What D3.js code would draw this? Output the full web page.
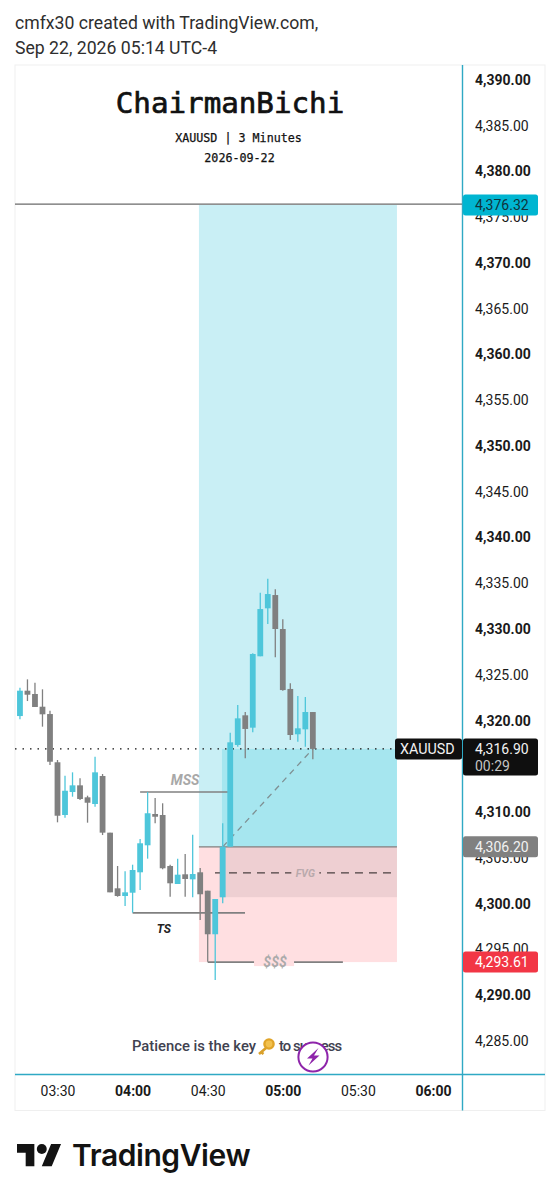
<!DOCTYPE html>
<html><head><meta charset="utf-8">
<script src="https://cdn.jsdelivr.net/npm/d3@7/dist/d3.min.js"></script>
<style>html,body{margin:0;padding:0;background:#fff}svg{display:block}text{font-family:Roboto,sans-serif}</style>
</head><body><div id="c"></div>
<script>
const opens=[4320.49,4323.26,4322.90,4321.51,4320.71,4315.44,4309.68,4312.19,4312.92,4311.61,4310.88,4313.94,4307.75,4301.67,4300.83,4301.19,4303.42,4306.37,4309.79,4309.68,4304.11,4302.14,4303.20,4302.65,4303.42,4301.41,4296.65,4300.69,4306.22,4317.33,4320.57,4319.22,4327.02,4332.26,4333.71,4330.00,4323.45,4318.50,4319.04,4320.93];
const highs=[4323.59,4324.50,4324.13,4323.41,4321.07,4315.69,4313.97,4314.34,4313.69,4311.79,4316.05,4314.16,4307.75,4304.11,4303.53,4304.25,4307.06,4312.19,4311.54,4310.96,4304.25,4304.91,4305.42,4307.53,4303.89,4301.41,4300.50,4308.77,4318.67,4321.70,4320.93,4327.34,4333.97,4335.50,4334.34,4331.06,4324.07,4322.68,4322.57,4320.93];
const lows=[4320.13,4322.13,4321.48,4319.33,4315.14,4308.88,4309.38,4311.68,4311.32,4308.84,4310.59,4307.49,4301.23,4300.75,4299.74,4299.01,4301.49,4304.91,4308.77,4303.75,4300.75,4302.14,4300.75,4300.69,4298.21,4293.65,4291.65,4300.03,4306.22,4317.14,4315.87,4318.71,4327.02,4330.55,4326.91,4323.26,4317.87,4317.69,4317.14,4315.76];
const closes=[4323.26,4322.82,4321.48,4320.68,4315.50,4309.60,4312.33,4312.92,4311.43,4311.02,4314.34,4307.75,4301.23,4300.83,4301.23,4303.67,4306.59,4309.87,4309.49,4303.86,4302.22,4303.16,4302.69,4303.23,4301.02,4296.65,4300.50,4306.22,4317.62,4320.24,4319.08,4327.27,4332.18,4333.82,4330.00,4323.33,4318.42,4319.15,4320.93,4316.90];
const firstMinute=195, barMinutes=3;
const priceTicks=[4285,4290,4295,4300,4305,4310,4315,4320,4325,4330,4335,4340,4345,4350,4355,4360,4365,4370,4375,4380,4385,4390];
const timeTicks=[210,240,270,300,330,360];
const tp=4376.32, entry=4306.20, stop=4293.61, last=4316.90;
const fvgTop=4306.20, fvgBottom=4300.70, fvgMid=4303.35;
const boxStart=266.5, boxEnd=345.6, posStart=275.7, fvgStart=274.5, fvgDashStart=272.9;
const mss=[243,278.1,4312.19], ts=[240,284.9,4298.99], liq=[270,324,4293.61];
const diagonal=[[276,4306.2],[312,4316.9]];

const W=559,H=1200;
const plotLeft=15,axisX=462.5,plotRight=545,plotTop=65,axisY=1074.5,plotBottom=1110.5;
const svg=d3.select('#c').append('svg').attr('width',W).attr('height',H);
const x=d3.scaleLinear().domain([210,360]).range([57.5,433]);
const y=d3.scaleLinear().domain([4390,4285]).range([79.8,1040.9]);
const fmtTime=m=>d3.format('02d')(Math.floor(m/60))+':'+d3.format('02d')(m%60);
const UP='#4ec6da',DOWN='#808080',AXIS='#2fa9c4';

// header
const head=svg.append('g').attr('fill','#2e2e2e').style('font-size','17.65px');
head.append('text').attr('x',15).attr('y',29).text('cmfx30 created with TradingView.com,');
head.append('text').attr('x',15).attr('y',54).text('Sep 22, 2026 05:14 UTC-4');

// frame
svg.append('rect').attr('x',plotLeft).attr('y',plotTop).attr('width',plotRight-plotLeft).attr('height',plotBottom-plotTop).attr('fill','#fff').attr('stroke','#efefef');

// boxes
const rect=(x0,x1,p0,p1,fill)=>svg.append('rect').attr('x',x(x0)).attr('width',x(x1)-x(x0)).attr('y',y(p0)).attr('height',y(p1)-y(p0)).attr('fill',fill);
rect(boxStart,boxEnd,tp,entry,'#c9eff5');
rect(posStart,boxEnd,last,entry,'#a6e6ef');
rect(boxStart,boxEnd,entry,stop,'#ffdfe1');
rect(fvgStart,boxEnd,fvgTop,fvgBottom,'#eecfd2');

const hl=(x0,x1,p,col,w,dash)=>svg.append('line').attr('x1',x0).attr('x2',x1).attr('y1',y(p)).attr('y2',y(p)).attr('stroke',col).attr('stroke-width',w).attr('stroke-dasharray',dash||null);
hl(plotLeft,axisX,tp+0.1,'#6a6a6a',1.3);
hl(x(boxStart),x(boxEnd),entry,'#7f7f7f',1.3);
hl(x(fvgDashStart),x(boxEnd),fvgMid,'#4a4040',1.3,'8 6');
hl(x(mss[0]),x(mss[1]),mss[2],'#808080',1.6);
hl(x(ts[0]),x(ts[1]),ts[2],'#808080',1.6);
hl(x(liq[0]),x(liq[1]),liq[2],'#808080',1.6);
svg.append('line').attr('x1',x(diagonal[0][0])).attr('y1',y(diagonal[0][1])).attr('x2',x(diagonal[1][0])).attr('y2',y(diagonal[1][1])).attr('stroke','#7f8f92').attr('stroke-width',1.3).attr('stroke-dasharray','6 5');
// last price dotted
hl(plotLeft,395,last,'#111',1.4,'1.5 6');

// candles
const candles=d3.range(opens.length).map(i=>({t:firstMinute+i*barMinutes,o:opens[i],h:highs[i],l:lows[i],c:closes[i]}));
const g=svg.append('g').selectAll('g').data(candles).join('g');
g.append('line').attr('x1',d=>x(d.t)).attr('x2',d=>x(d.t)).attr('y1',d=>y(d.h)).attr('y2',d=>y(d.l)).attr('stroke-width',1.3).attr('stroke',d=>d.c>=d.o?UP:DOWN);
g.append('rect').attr('x',d=>x(d.t)-2.9).attr('width',5.8).attr('y',d=>y(Math.max(d.o,d.c))).attr('height',d=>Math.max(1.5,Math.abs(y(d.o)-y(d.c)))).attr('fill',d=>d.c>=d.o?UP:DOWN);

// labels on drawings
const lbl=(t,m,p,col,size,weight)=>svg.append('text').attr('x',x(m)).attr('y',y(p)).attr('dy','0.35em').attr('text-anchor','middle').attr('fill',col).style('font-size',size+'px').style('font-weight',weight).style('font-style','italic').text(t);
svg.append('rect').attr('x',x(296.5)-20).attr('y',y(stop)-4).attr('width',40).attr('height',8).attr('fill','#ffdfe1');
lbl('MSS',261,4313.5,'#a8a8a8',14,700);
lbl('TS',252.5,4297.3,'#222',12,700);
svg.append('rect').attr('x',x(309)-14).attr('y',y(fvgMid)-7).attr('width',28).attr('height',14).attr('fill','#eecfd2');
lbl('FVG',309,fvgMid,'#b9a9ac',10.5,700);
lbl('$$$',296.9,stop,'#aaa',14,700);

// bottom note
const note=svg.append('g').attr('fill','#3f4250').style('font-size','14.8px').style('font-weight','500');
note.append('text').attr('x',256).attr('y',1051).attr('text-anchor','end').text('Patience is the key');
note.append('text').attr('x',279).attr('y',1051).attr('textLength',63).attr('lengthAdjust','spacing').text('to success');
const key=svg.append('g').attr('transform','translate(258,1039)');
key.append('circle').attr('cx',11).attr('cy',5).attr('r',4.6).attr('fill','#f2c14e').attr('stroke','#e0a428').attr('stroke-width',2.4);
key.append('path').attr('d','M8 9 L1 15 M3 13 L5.5 15').attr('stroke','#d9a02a').attr('stroke-width',2.6).attr('fill','none');
// bolt badge
const bolt=svg.append('g').attr('transform','translate(313,1057)');
bolt.append('circle').attr('r',14.6).attr('fill','#fff').attr('stroke','#8e24aa').attr('stroke-width',2);
bolt.append('path').attr('d','M5.5 -9 L-6 1.5 L-0.5 1.5 L-4.5 8.5 L6.5 -1.5 L1 -1.5 Z').attr('fill','#8e24aa');

// axes
const yAxis=svg.append('g').attr('transform',`translate(${axisX},0)`).call(d3.axisRight(y).tickValues(priceTicks).tickSize(0).tickPadding(12.5).tickFormat(d3.format(',.2f')));
yAxis.select('.domain').remove();
yAxis.selectAll('text').attr('fill','#1a1a1a').style('font-family','Roboto,sans-serif').style('font-size','14px').style('font-weight',d=>d%10===0?700:400);
const xAxis=svg.append('g').attr('transform',`translate(0,${axisY})`).call(d3.axisBottom(x).tickValues(timeTicks).tickSize(0).tickPadding(12).tickFormat(fmtTime));
xAxis.select('.domain').remove();
xAxis.selectAll('text').attr('fill','#1a1a1a').style('font-family','Roboto,sans-serif').style('font-size','14px').style('font-weight',d=>d%60===0?700:400);
svg.append('line').attr('x1',axisX).attr('x2',axisX).attr('y1',plotTop).attr('y2',plotBottom).attr('stroke',AXIS).attr('stroke-width',1.4);
svg.append('line').attr('x1',plotLeft).attr('x2',plotRight).attr('y1',axisY).attr('y2',axisY).attr('stroke',AXIS).attr('stroke-width',1.4);

// price tags
const tag=(p,fill,col,h)=>{svg.append('rect').attr('x',axisX+0.5).attr('y',y(p)-10.5).attr('width',75).attr('height',h||21).attr('rx',2.5).attr('fill',fill);
 svg.append('text').attr('x',axisX+12.5).attr('y',y(p)).attr('dy','0.36em').attr('fill',col).style('font-size','14px').text(d3.format(',.2f')(p));};
tag(tp,'#00b5d1','#10333b');
tag(entry,'#808080','#f2f2f2');
tag(stop,'#f23645','#fff');
tag(last,'#0f0f0f','#f2f2f2',37);
svg.append('text').attr('x',axisX+12.5).attr('y',y(last)+17).attr('dy','0.36em').attr('fill','#c4c4c4').style('font-size','14px').text('00:29');
svg.append('rect').attr('x',395).attr('y',y(last)-10.5).attr('width',67).attr('height',21).attr('rx',2.5).attr('fill','#0f0f0f');
svg.append('text').attr('x',400).attr('y',y(last)).attr('dy','0.36em').attr('fill','#f2f2f2').style('font-size','14.3px').text('XAUUSD');

// title
const mono=svg.append('g').attr('text-anchor','middle').attr('fill','#111').attr('stroke','#111');
const monoFont='"DejaVu Sans Mono",monospace';
mono.append('text').attr('x',230).attr('y',113).attr('stroke-width',0.7).style('font-family',monoFont).style('font-size','29.2px').text('ChairmanBichi');
mono.append('text').attr('x',238.5).attr('y',142).attr('stroke-width',0.25).style('font-family',monoFont).style('font-size','11.7px').text('XAUUSD | 3 Minutes');
mono.append('text').attr('x',239.5).attr('y',162).attr('stroke-width',0.25).style('font-family',monoFont).style('font-size','11.7px').text('2026-09-22');

// logo
const logo=svg.append('g').attr('transform','translate(17,1139) scale(1.24)').attr('fill','#131313');
logo.append('path').attr('d','M14 22H7V11H0V4h14v18zM28 22h-8l7.5-18h8L28 22z');
logo.append('circle').attr('cx',20).attr('cy',8).attr('r',4);
svg.append('text').attr('x',72).attr('y',1166).attr('fill','#131313').style('font-family','Inter,sans-serif').style('font-size','30px').style('font-weight','600').style('letter-spacing','-0.42px').text('TradingView');
</script></body></html>
